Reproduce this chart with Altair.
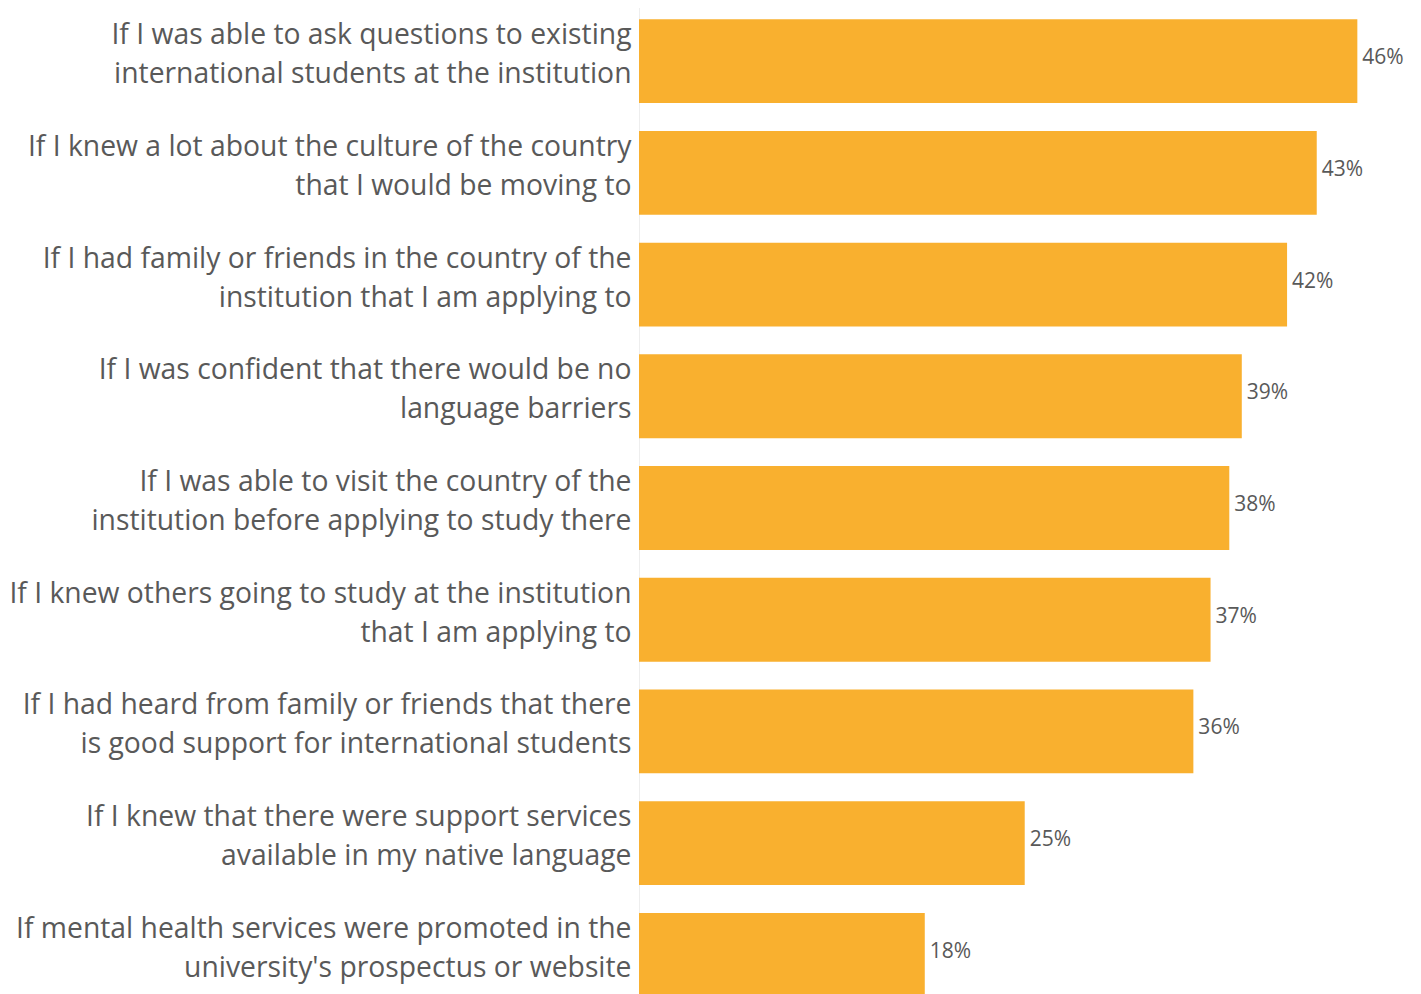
import altair as alt
import pandas as pd

categories = [
    "If I was able to ask questions to existing\ninternational students at the institution",
    "If I knew a lot about the culture of the country\nthat I would be moving to",
    "If I had family or friends in the country of the\ninstitution that I am applying to",
    "If I was confident that there would be no\nlanguage barriers",
    "If I was able to visit the country of the\ninstitution before applying to study there",
    "If I knew others going to study at the institution\nthat I am applying to",
    "If I had heard from family or friends that there\nis good support for international students",
    "If I knew that there were support services\navailable in my native language",
    "If mental health services were promoted in the\nuniversity's prospectus or website",
]
values = [46.0, 43.4, 41.5, 38.6, 37.8, 36.6, 35.5, 24.7, 18.3]
value_labels = ["46%", "43%", "42%", "39%", "38%", "37%", "36%", "25%", "18%"]

df = pd.DataFrame({"category": categories, "value": values, "label": value_labels})

FONT = "Open Sans"
GREY = "#595959"

y_enc = alt.Y(
    "category:N",
    sort=categories,
    scale=alt.Scale(paddingInner=0.25, paddingOuter=0.1),
    axis=alt.Axis(
        title=None,
        ticks=False,
        grid=False,
        labelExpr="split(datum.label, '\\n')",
        labelFont=FONT,
        labelFontSize=28.3,
        labelColor=GREY,
        labelLineHeight=39,
        labelPadding=8,
        labelLimit=800,
        labelOffset=-25,
        domainColor="#dcdcdc",
        domainDash=[1, 1],
        domainWidth=1,
    ),
)
x_enc = alt.X(
    "value:Q",
    scale=alt.Scale(domain=[0, 49.5], nice=False),
    axis=None,
)

bars = alt.Chart(df).mark_bar(color="#F9B02F").encode(x=x_enc, y=y_enc)
text = alt.Chart(df).mark_text(
    align="left", baseline="middle", dx=5, dy=-3, font=FONT, fontSize=21, color=GREY
).encode(x=x_enc, y=y_enc, text="label:N")

chart = (
    alt.layer(bars, text)
    .properties(width=773, height=1000, padding=0, background="white")
    .configure_view(strokeWidth=0)
)

chart.save("out.html", embed_options={"renderer": "svg", "actions": False})
